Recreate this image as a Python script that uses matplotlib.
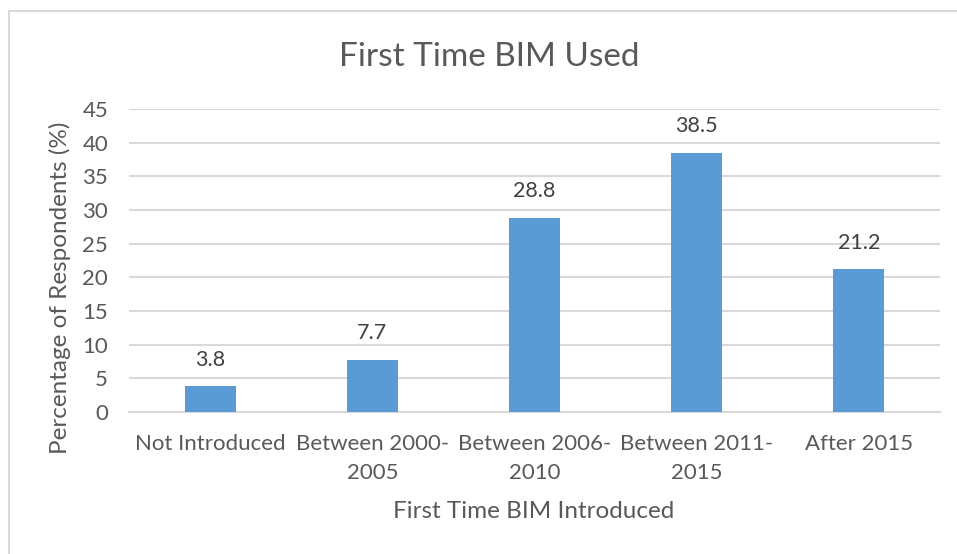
import matplotlib
matplotlib.use("Agg")
import matplotlib.pyplot as plt
from matplotlib.lines import Line2D

categories = ["Not Introduced", "Between 2000-\n2005", "Between 2006-\n2010",
              "Between 2011-\n2015", "After 2015"]
values = [3.8, 7.7, 28.8, 38.5, 21.2]
yticks = [0, 5, 10, 15, 20, 25, 30, 35, 40, 45]

plt.rcParams["font.family"] = ["Lato", "DejaVu Sans"]
text_color = "#595959"
grid_color = "#d9d9d9"
bar_color = "#5b9bd5"

W, H = 957, 554
fig = plt.figure(figsize=(W / 100, H / 100), dpi=100)

# chart frame (left and top edges; the rest runs past the canvas)
fx, fy = 8.5 / W, 1 - 10.5 / H
fig.add_artist(Line2D([fx, fx], [0, fy], transform=fig.transFigure,
                      color=grid_color, linewidth=1.5))
fig.add_artist(Line2D([fx, 1], [fy, fy], transform=fig.transFigure,
                      color=grid_color, linewidth=1.5))

ax = fig.add_axes([129 / W, 1 - 412 / H, (940 - 129) / W, (412 - 109) / H])
x = range(len(categories))
bars = ax.bar(x, values, width=0.315, color=bar_color, zorder=3)
ax.set_xlim(-0.5, len(categories) - 0.5)
ax.set_ylim(0, 45)
ax.set_yticks(yticks)
ax.set_xticks(list(x))
ax.set_xticklabels(categories, linespacing=1.55)
ax.yaxis.grid(True, color=grid_color, linewidth=1.5, zorder=0)
ax.set_axisbelow(True)
for s in ["top", "right", "left"]:
    ax.spines[s].set_visible(False)
ax.spines["bottom"].set_color(grid_color)
ax.spines["bottom"].set_linewidth(1.5)
ax.tick_params(axis="both", length=0, labelsize=16, colors=text_color)
ax.tick_params(axis="y", pad=15)
ax.tick_params(axis="x", pad=16)

for b, v in zip(bars, values):
    ax.annotate(f"{v}", (b.get_x() + b.get_width() / 2, v), xytext=(0, 12),
                textcoords="offset points", ha="center", va="bottom",
                fontsize=15.5, color="#404040")

ax.set_ylabel("Percentage of Respondents (%)", fontsize=17.5, color=text_color)
ax.yaxis.set_label_coords(-0.085, 0.41)
ax.set_xlabel("First Time BIM Introduced", fontsize=17.5, color=text_color)
ax.xaxis.set_label_coords((534 - 129) / (940 - 129), -(512 - 412) / (412 - 109))
ax.xaxis.label.set_va("center")
ax.yaxis.label.set_va("center")
fig.text(489 / W, 1 - 57 / H, "First Time BIM Used", ha="center", va="center",
         fontsize=24, color=text_color)

fig.savefig("out.png", dpi=100)
